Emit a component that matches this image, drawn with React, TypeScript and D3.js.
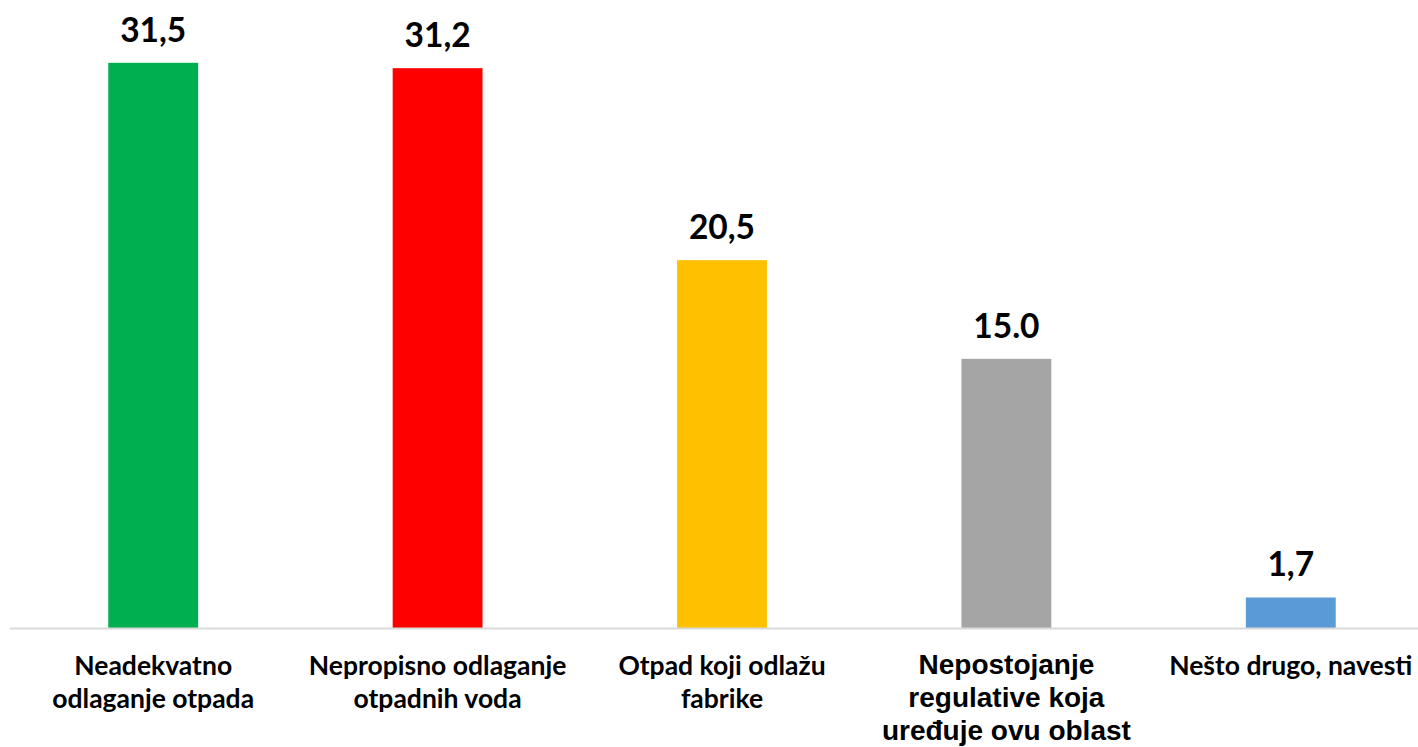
import React, { useEffect } from 'react';
import * as d3 from 'd3';

// categories (line breaks as in the original chart)
const categories = [
  ['Neadekvatno', 'odlaganje otpada'],
  ['Nepropisno odlaganje', 'otpadnih voda'],
  ['Otpad koji odlažu', 'fabrike'],
  ['Nepostojanje', 'regulative koja', 'uređuje ovu oblast'],
  ['Nešto drugo, navesti'],
];
const values = [31.5, 31.2, 20.5, 15.0, 1.7];
const valueLabels = ['31,5', '31,2', '20,5', '15.0', '1,7'];
const colors = ['#00B050', '#FF0000', '#FFC000', '#A5A5A5', '#5B9BD5'];

const W = 1418;
const H = 747;
const baseline = 628;

const App = () => {
  useEffect(() => {
    document.body.style.margin = '0';
  }, []);

  const x = d3
    .scaleBand<number>()
    .domain(d3.range(values.length))
    .range([11, 1433])
    .paddingInner(0.684)
    .paddingOuter(0.342);

  const y = d3.scaleLinear().domain([0, 35]).range([baseline, 0]);

  const calibri = 'Lato, "Open Sans", sans-serif';
  const arial = '"Liberation Sans", Arial, sans-serif';

  return (
    <svg width={W} height={H} style={{ display: 'block', background: '#fff' }}>
      {values.map((v, i) => (
        <rect
          key={i}
          x={x(i)}
          y={y(v)}
          width={x.bandwidth()}
          height={baseline - y(v)}
          fill={colors[i]}
        />
      ))}
      <line x1={10} x2={W} y1={baseline + 0.5} y2={baseline + 0.5} stroke="#d9d9d9" strokeWidth={2} />
      {values.map((v, i) => (
        <text
          key={i}
          x={x(i)! + x.bandwidth() / 2}
          y={y(v) - 21}
          textAnchor="middle"
          fontFamily={calibri}
          fontWeight={700}
          fontSize={33.5}
          fill="#000"
        >
          {valueLabels[i]}
        </text>
      ))}
      {categories.map((lines, i) => {
        const isArial = i === 3;
        return (
          <text
            key={i}
            x={x(i)! + x.bandwidth() / 2}
            y={isArial ? 674 : 675}
            textAnchor="middle"
            fontFamily={isArial ? arial : calibri}
            fontWeight={700}
            fontSize={isArial ? 28 : 26.5}
            fill="#000"
          >
            {lines.map((l, j) => (
              <tspan key={j} x={x(i)! + x.bandwidth() / 2} dy={j === 0 ? 0 : 33}>
                {l}
              </tspan>
            ))}
          </text>
        );
      })}
    </svg>
  );
};

export default App;
